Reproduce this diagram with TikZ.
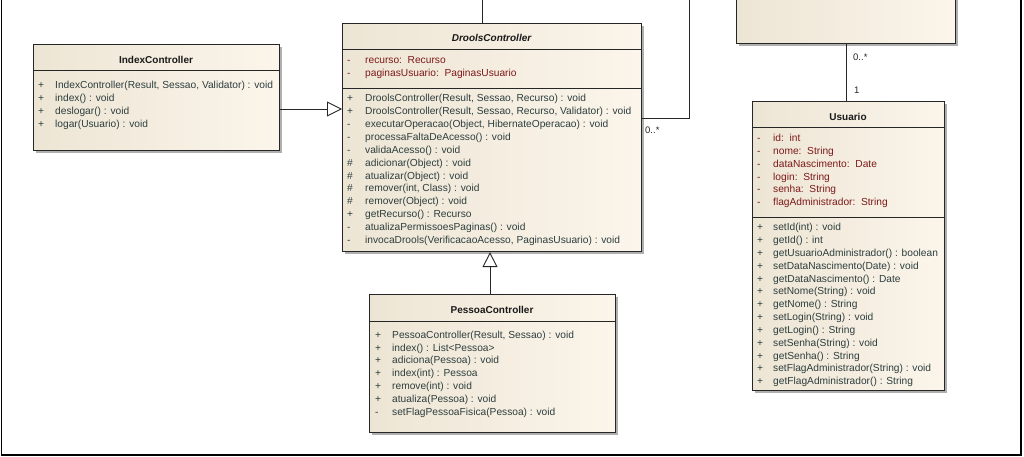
\documentclass[tikz,border=0pt]{standalone}
\usepackage{fontspec}
\setmainfont{Liberation Sans}
\usetikzlibrary{arrows.meta}
\definecolor{attrc}{RGB}{125,25,25}
\definecolor{methc}{RGB}{45,62,62}
\definecolor{bodyL}{RGB}{237,229,212}
\definecolor{bodyR}{RGB}{251,245,235}
\definecolor{shadowc}{RGB}{175,175,175}
\tikzset{
  cls/.style={draw=black!85, line width=1.1pt, left color=bodyL, right color=bodyR, anchor=north west, inner sep=0pt},
  row/.style={anchor=west, inner sep=0pt, font=\fontsize{10.2}{12}\selectfont, text height=7.2pt, text depth=2pt},
  mrow/.style={row, text=methc},
  arow/.style={row, text=attrc},
  ctitle/.style={anchor=center, inner sep=0pt, font=\fontsize{10}{12}\selectfont\bfseries, text=black!90},
  sepline/.style={draw=black!85, line width=1pt},
  conn/.style={draw=black!85, line width=0.9pt},
  gen/.style={conn, -{Triangle[open, length=15pt, width=15pt, line width=0.9pt]}},
  mult/.style={anchor=west, inner sep=0pt, font=\fontsize{9.5}{11}\selectfont, text=black!85},
}
\newcommand{\umlbox}[5]{%
  \fill[shadowc] (#2+3,#3+3) rectangle (#4+3,#5+3);
  \node[cls, minimum width={#4-#2}, minimum height={#5-#3}] (#1) at (#2,#3) {};
}
\begin{document}
\begin{tikzpicture}[x=1pt, y=-1pt]
\useasboundingbox (0,0) rectangle (1024,457);
\fill[white] (0,0) rectangle (1024,457);
\clip (0,0) rectangle (1024,457);

% outer frame
\draw[black, line width=1.3pt] (1.5,0) -- (1.5,455) -- (1021,455) -- (1021,0);

% top right (partial) class
\umlbox{tb}{736}{-20}{955}{43}

% IndexController
\umlbox{ic}{33}{44}{279}{150}
\node[ctitle] (ic-title) at (156,59.5) {IndexController};
\draw[sepline] (ic.west |- 0,71) -- (ic.east |- 0,71);
\foreach [count=\i from 0] \s/\t in {
  {+/IndexController(Result, Sessao, Validator) : void},
  {+/index() : void},
  {+/deslogar() : void},
  {+/logar(Usuario) : void}} {
  \node[mrow] (ic-s\i) at (38, 86+12.9*\i) {\s};
  \node[mrow] (ic-t\i) at (55, 86+12.9*\i) {\t};
}

% DroolsController
\umlbox{dc}{342}{23}{641}{251}
\node[ctitle, font=\fontsize{10}{12}\selectfont\bfseries\itshape] (dc-title) at (491.5,37.5) {DroolsController};
\draw[sepline] (dc.west |- 0,50) -- (dc.east |- 0,50);
\node[arow] (dc-as0) at (347,61) {-};
\node[arow] (dc-at0) at (365,61) {recurso:\ \ Recurso};
\node[arow] (dc-as1) at (347,73.9) {-};
\node[arow] (dc-at1) at (365,73.9) {paginasUsuario:\ \ PaginasUsuario};
\draw[sepline] (dc.west |- 0,89) -- (dc.east |- 0,89);
\foreach [count=\i from 0] \s/\t in {
  {+/DroolsController(Result, Sessao, Recurso) : void},
  {+/DroolsController(Result, Sessao, Recurso, Validator) : void},
  {-/executarOperacao(Object, HibernateOperacao) : void},
  {-/processaFaltaDeAcesso() : void},
  {-/validaAcesso() : void},
  {\#/adicionar(Object) : void},
  {\#/atualizar(Object) : void},
  {\#/remover(int, Class) : void},
  {\#/remover(Object) : void},
  {+/getRecurso() : Recurso},
  {-/atualizaPermissoesPaginas() : void},
  {-/invocaDrools(VerificacaoAcesso, PaginasUsuario) : void}} {
  \node[mrow] (dc-s\i) at (347, 99+12.9*\i) {\s};
  \node[mrow] (dc-t\i) at (365, 99+12.9*\i) {\t};
}

% PessoaController
\umlbox{pc}{369}{294}{615}{432}
\node[ctitle] (pc-title) at (492,310) {PessoaController};
\draw[sepline] (pc.west |- 0,321) -- (pc.east |- 0,321);
\foreach [count=\i from 0] \s/\t in {
  {+/PessoaController(Result, Sessao) : void},
  {+/index() : List<Pessoa>},
  {+/adiciona(Pessoa) : void},
  {+/index(int) : Pessoa},
  {+/remove(int) : void},
  {+/atualiza(Pessoa) : void},
  {-/setFlagPessoaFisica(Pessoa) : void}} {
  \node[mrow] (pc-s\i) at (375, 335.5+12.9*\i) {\s};
  \node[mrow] (pc-t\i) at (392, 335.5+12.9*\i) {\t};
}

% Usuario
\umlbox{us}{752}{101}{944}{390}
\node[ctitle] (us-title) at (848,116.5) {Usuario};
\draw[sepline] (us.west |- 0,128) -- (us.east |- 0,128);
\foreach [count=\i from 0] \t in {
  {id:\ \ int}, {nome:\ \ String}, {dataNascimento:\ \ Date},
  {login:\ \ String}, {senha:\ \ String}, {flagAdministrador:\ \ String}} {
  \node[arow] (us-as\i) at (757, 139+12.8*\i) {-};
  \node[arow] (us-at\i) at (773, 139+12.8*\i) {\t};
}
\draw[sepline] (us.west |- 0,217) -- (us.east |- 0,217);
\foreach [count=\i from 0] \t in {
  {setId(int) : void},
  {getId() : int},
  {getUsuarioAdministrador() : boolean},
  {setDataNascimento(Date) : void},
  {getDataNascimento() : Date},
  {setNome(String) : void},
  {getNome() : String},
  {setLogin(String) : void},
  {getLogin() : String},
  {setSenha(String) : void},
  {getSenha() : String},
  {setFlagAdministrador(String) : void},
  {getFlagAdministrador() : String}} {
  \node[mrow] (us-s\i) at (757, 228+12.85*\i) {+};
  \node[mrow] (us-t\i) at (773, 228+12.85*\i) {\t};
}

% connectors
\coordinate (t1) at (482.5,0);
\coordinate (t2) at (689.5,0);
\draw[gen] (ic.east |- 0,109) -- (dc.west |- 0,109);
\draw[gen] (pc.north -| 490,0) -- (dc.south -| 490,0);
\draw[conn] (dc.north -| t1) -- (t1);
\draw[conn] (dc.east |- 0,118.5) -| (t2);
\draw[conn] (tb.south -| 846,0) -- (us.north -| 846,0);

% multiplicities
\node[mult] (m1) at (645,130) {0..*};
\node[mult] (m2) at (853,57) {0..*};
\node[mult] (m3) at (854,90) {1};
\end{tikzpicture}
\end{document}
